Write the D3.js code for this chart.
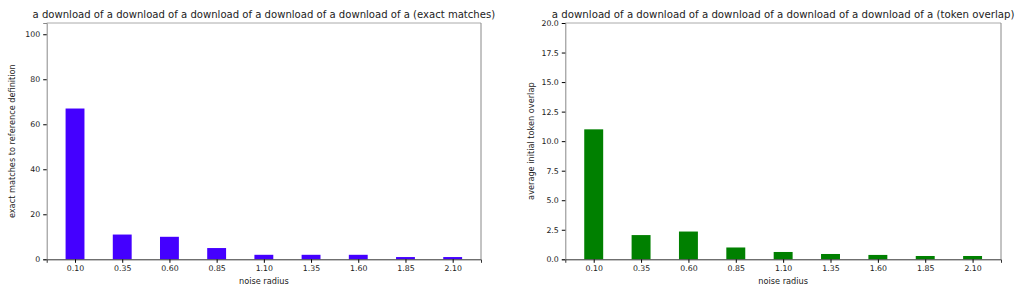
<!DOCTYPE html>
<html><head><meta charset="utf-8">
<script src="https://cdn.jsdelivr.net/npm/d3@7"></script>
<style>body{margin:0;background:#fff}svg{display:block}text{font-family:"DejaVu Sans",sans-serif;fill:#222}</style>
</head><body><svg id="c" width="1024" height="293"></svg>
<script>
const categories = ["0.10","0.35","0.60","0.85","1.10","1.35","1.60","1.85","2.10"];
const exactMatches = [67, 11, 10, 5, 2, 2, 2, 1, 1];
const tokenOverlap = [11.0, 2.05, 2.35, 1.0, 0.62, 0.45, 0.37, 0.28, 0.28];
const leftTicks = [0, 20, 40, 60, 80, 100];
const rightTicks = [0, 2.5, 5, 7.5, 10, 12.5, 15, 17.5, 20];
const titles = ["a download of a download of a download of a download of a download of a (exact matches)",
                "a download of a download of a download of a download of a download of a (token overlap)"];
const yLabels = ["exact matches to reference definition", "average initial token overlap"];
const xLabel = "noise radius";

const svg = d3.select("#c");
const panels = [
  {x0:46.7, x1:481, vals:exactMatches, ymax:105, ticks:leftTicks, fmt:d3.format("d"), color:"#4400ff", title:titles[0], ylab:yLabels[0], ylabX:15},
  {x0:565.3, x1:1001, vals:tokenOverlap, ymax:20, ticks:rightTicks, fmt:d3.format(".1f"), color:"#008000", title:titles[1], ylab:yLabels[1], ylabX:534}
];
const plotTop = 23, plotBottom = 259.3;
panels.forEach(p => {
  const g = svg.append("g");
  const x = d3.scaleLinear().domain([-0.6, categories.length - 0.4]).range([p.x0, p.x1]);
  const y = d3.scaleLinear().domain([0, p.ymax]).range([plotBottom, plotTop]);
  const bw = x(0.4) - x(0);
  g.selectAll("rect.bar").data(p.vals).enter().append("rect")
    .attr("x", (d,i) => x(i) - bw/2).attr("width", bw)
    .attr("y", d => y(d)).attr("height", d => plotBottom - y(d))
    .attr("fill", p.color);
  g.append("line").attr("x1",p.x0).attr("x2",p.x1).attr("y1",plotTop).attr("y2",plotTop).attr("stroke","#aaa");
  g.append("line").attr("x1",p.x1).attr("x2",p.x1).attr("y1",plotTop).attr("y2",plotBottom).attr("stroke","#888");
  const ya = d3.axisLeft(y).tickValues(p.ticks).tickFormat(p.fmt).tickSize(3.5).tickPadding(3);
  const yg = g.append("g").attr("transform",`translate(${p.x0},0)`).call(ya);
  yg.select(".domain").attr("stroke","#888");
  yg.selectAll("text").style("font-size","7.8px").style("font-family","DejaVu Sans");
  const xa = d3.axisBottom(x).tickValues(d3.range(categories.length)).tickFormat(i => categories[i]).tickSize(3.5).tickPadding(3);
  const xg = g.append("g").attr("transform",`translate(0,${plotBottom})`).call(xa);
  xg.select(".domain").attr("stroke","#333");
  xg.selectAll("text").style("font-size","7.8px").style("font-family","DejaVu Sans");
  g.append("text").attr("x",(p.x0+p.x1)/2).attr("y",284).attr("text-anchor","middle").style("font-size","8.2px").text(xLabel);
  g.append("text").attr("transform",`translate(${p.ylabX},${(plotTop+plotBottom)/2}) rotate(-90)`).attr("text-anchor","middle").style("font-size","8.2px").text(p.ylab);
  const t = g.append("text").attr("x",(p.x0+p.x1)/2).attr("y",17.5).attr("text-anchor","middle").style("font-size","10px").text(p.title);
  const L = t.node().getComputedTextLength();
  t.style("font-size", (10*463/L).toFixed(2)+"px");
});
</script></body></html>
